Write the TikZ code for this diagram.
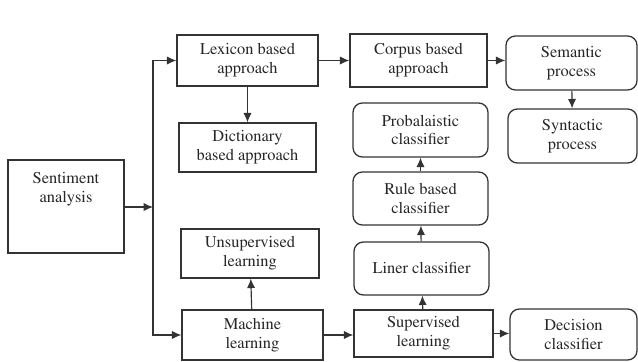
\documentclass[tikz,border=0pt]{standalone}
\usepackage[T1]{fontenc}
\usepackage{times}
\usetikzlibrary{arrows.meta}

\begin{document}
\begin{tikzpicture}[x=0.03cm,y=-0.03cm,
  box/.style={draw=black!80, line width=1.1pt, align=center, inner sep=2pt,
    font=\rmfamily\fontsize{14}{16}\selectfont, text=black!85},
  rbox/.style={box, rounded corners=8pt},
  arr/.style={draw=black!80, line width=1pt, -{Latex[length=8pt,width=7pt]}}]
\useasboundingbox (0,0) rectangle (638,362);
% left column
\node[box, minimum width=3.48cm, minimum height=2.79cm] (sent) at (66,206.5) {Sentiment\\analysis\\\mbox{}\\\mbox{}};
\coordinate (jn) at (153,207);
% lexicon side
\node[box, minimum width=4.23cm, minimum height=1.53cm] (lex) at (247.5,60.5) {Lexicon based\\approach};
\node[box, minimum width=4.11cm, minimum height=1.47cm] (dict) at (247.5,147.5) {Dictionary\\based approach};
\node[box, minimum width=4.11cm, minimum height=1.59cm] (corp) at (418.5,60.5) {Corpus based\\approach};
\node[rbox, minimum width=3.93cm, minimum height=1.62cm] (sem) at (571.5,63) {Semantic\\process};
\node[rbox, minimum width=3.87cm, minimum height=1.62cm] (syn) at (572.5,136) {Syntactic\\process};
% machine learning side
\node[box, minimum width=4.14cm, minimum height=1.47cm] (unsup) at (250,253.5) {Unsupervised\\learning};
\node[box, minimum width=4.23cm, minimum height=1.5cm] (mach) at (252.5,335) {Machine\\learning};
\node[box, minimum width=4.17cm, minimum height=1.41cm] (sup) at (423.5,333.5) {Supervised\\learning};
\node[rbox, minimum width=4.05cm, minimum height=1.59cm] (liner) at (421.5,268.5) {Liner classifier};
\node[rbox, minimum width=4.05cm, minimum height=1.59cm] (rule) at (420.5,198.5) {Rule based\\classifier};
\node[rbox, minimum width=4.05cm, minimum height=1.62cm] (prob) at (420.5,130) {Probalaistic\\classifier};
\node[rbox, minimum width=3.81cm, minimum height=1.53cm] (dec) at (573.5,334.5) {Decision\\classifier};
% connectors
\draw[arr] (sent.east |- jn) -- (jn);
\draw[arr] (jn) |- (lex.west);
\draw[arr] (jn) |- (mach.west);
\draw[arr] (lex) -- (dict);
\draw[arr] (lex) -- (corp);
\draw[arr] (corp.east) -- (sem.west |- corp.east);
\draw[arr] (sem) -- (syn);
\draw[arr] (mach) -- (unsup);
\draw[arr] (mach.east) -- (sup.west |- mach.east);
\draw[arr] (sup) -- (dec.west |- sup);
\draw[arr] (sup) -- (liner);
\draw[arr] (liner) -- (rule);
\draw[arr] (rule) -- (prob);
\end{tikzpicture}
\end{document}
